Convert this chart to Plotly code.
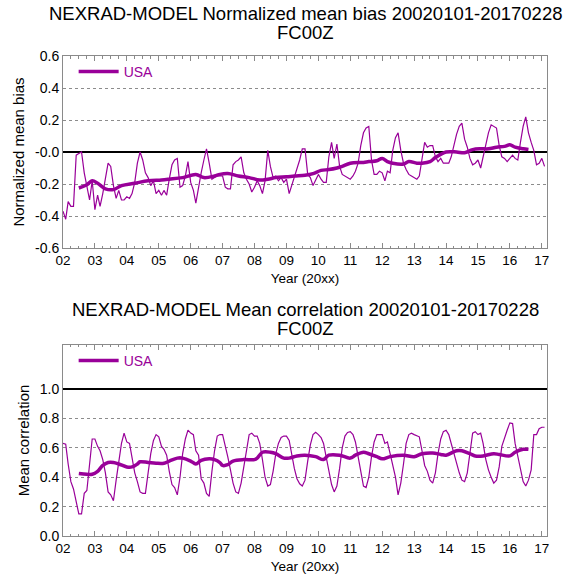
import pandas as pd
import plotly.graph_objects as go

# Monthly series, January 2002 through February 2017
months = pd.date_range("2002-01-01", "2017-02-01", freq="MS")

bias_monthly = [
    -0.37, -0.42, -0.31, -0.34, -0.34, -0.02, -0.01, 0.00, -0.13, -0.21,
    -0.30, -0.18, -0.36, -0.27, -0.34, -0.26, -0.16, -0.07, -0.09, -0.21,
    -0.29, -0.24, -0.30, -0.30, -0.28, -0.29, -0.26, -0.19, -0.07, 0.00,
    -0.05, -0.13, -0.16, -0.21, -0.18, -0.26, -0.24, -0.27, -0.24, -0.27,
    -0.17, -0.08, -0.05, -0.04, -0.22, -0.21, -0.15, -0.06, -0.19, -0.24,
    -0.32, -0.21, -0.13, -0.05, 0.02, -0.07, -0.17, -0.16, -0.15, -0.15,
    -0.15, -0.22, -0.23, -0.23, -0.08, -0.06, -0.05, -0.03, -0.13, -0.17,
    -0.20, -0.25, -0.22, -0.18, -0.21, -0.26, -0.18, 0.01, -0.09, -0.16,
    -0.15, -0.18, -0.16, -0.19, -0.17, -0.26, -0.21, -0.16, -0.11, -0.05,
    0.02, 0.02, -0.14, -0.16, -0.21, -0.17, -0.14, -0.17, -0.19, -0.19,
    -0.03, 0.06, -0.04, 0.05, -0.09, -0.14, -0.15, -0.16, -0.17, -0.15,
    -0.12, -0.07, 0.04, 0.12, 0.15, 0.16, -0.05, -0.14, -0.14, -0.12,
    -0.13, -0.18, -0.12, -0.13, 0.01, 0.09, 0.12, 0.01, -0.07, -0.11,
    -0.14, -0.15, -0.16, -0.17, -0.15, -0.05, 0.06, 0.03, 0.04, 0.04,
    -0.03, -0.06, -0.04, -0.07, -0.07, -0.07, -0.03, 0.04, 0.11, 0.16,
    0.18, 0.08, 0.03, -0.04, -0.08, -0.07, -0.05, -0.10, -0.03, 0.04,
    0.12, 0.17, 0.16, 0.15, 0.04, -0.03, -0.04, -0.06, -0.04, -0.02,
    -0.04, -0.05, 0.06, 0.16, 0.22, 0.12, 0.06, 0.01, -0.08, -0.07,
    -0.04, -0.09,
]

corr_monthly = [
    0.63, 0.625, 0.49, 0.37, 0.32, 0.23, 0.15, 0.15, 0.29, 0.31,
    0.48, 0.66, 0.66, 0.61, 0.58, 0.52, 0.43, 0.30, 0.28, 0.24,
    0.38, 0.52, 0.63, 0.70, 0.64, 0.63, 0.54, 0.43, 0.37, 0.30,
    0.29, 0.29, 0.43, 0.56, 0.65, 0.69, 0.675, 0.61, 0.59, 0.55,
    0.44, 0.35, 0.33, 0.28, 0.40, 0.56, 0.66, 0.72, 0.70, 0.69,
    0.58, 0.55, 0.39, 0.36, 0.29, 0.27, 0.44, 0.58, 0.68, 0.69,
    0.69, 0.62, 0.54, 0.45, 0.36, 0.30, 0.29, 0.36, 0.48, 0.60,
    0.69, 0.70, 0.68, 0.68, 0.63, 0.52, 0.40, 0.34, 0.35, 0.44,
    0.56, 0.63, 0.67, 0.68, 0.68, 0.65, 0.55, 0.46, 0.39, 0.355,
    0.34, 0.38, 0.51, 0.62, 0.69, 0.705, 0.69, 0.67, 0.63, 0.53,
    0.43, 0.35, 0.30, 0.34, 0.46, 0.60, 0.68, 0.705, 0.71, 0.69,
    0.64, 0.53, 0.42, 0.34, 0.33, 0.40, 0.54, 0.64, 0.69, 0.69,
    0.69, 0.63, 0.64, 0.56, 0.48, 0.40, 0.28, 0.36, 0.49, 0.63,
    0.69, 0.70, 0.69, 0.68, 0.675, 0.58, 0.48, 0.44, 0.38, 0.36,
    0.43, 0.56, 0.66, 0.71, 0.72, 0.69, 0.63, 0.56, 0.48, 0.43,
    0.38, 0.37, 0.43, 0.58, 0.70, 0.71, 0.69, 0.70, 0.63, 0.52,
    0.45, 0.40, 0.36, 0.38, 0.47, 0.61, 0.675, 0.72, 0.77, 0.765,
    0.63, 0.54, 0.44, 0.37, 0.34, 0.38, 0.45, 0.69, 0.69, 0.73,
    0.74, 0.74,
]

# 12-month running means
bias_smooth_dates = [
    "2002-07", "2002-10", "2002-12", "2003-02", "2003-05", "2003-08", "2003-11",
    "2004-04", "2004-09", "2005-02", "2005-05", "2005-10", "2006-03", "2006-06",
    "2006-10", "2006-12", "2007-03", "2007-07", "2007-11", "2008-03", "2008-06",
    "2008-09", "2009-01", "2009-04", "2009-08", "2009-11", "2010-02", "2010-05",
    "2010-08", "2010-10", "2011-01", "2011-06", "2011-08", "2011-11", "2012-01",
    "2012-03", "2012-05", "2012-09", "2012-11", "2013-02", "2013-04", "2013-07",
    "2013-09", "2014-01", "2014-05", "2014-08", "2014-11", "2015-02", "2015-05",
    "2015-08", "2015-11", "2016-01", "2016-03", "2016-06", "2016-08",
]
bias_smooth = [
    -0.225, -0.205, -0.18, -0.195, -0.23, -0.235, -0.21,
    -0.195, -0.18, -0.175, -0.17, -0.16, -0.14, -0.16,
    -0.15, -0.14, -0.135, -0.15, -0.16, -0.175, -0.17,
    -0.16, -0.155, -0.15, -0.145, -0.135, -0.115, -0.11,
    -0.10, -0.09, -0.07, -0.065, -0.06, -0.055, -0.04,
    -0.06, -0.07, -0.075, -0.06, -0.07, -0.07, -0.06,
    -0.035, 0.0, 0.0, -0.005, 0.015, 0.02, 0.02,
    0.03, 0.035, 0.045, 0.03, 0.02, 0.015,
]

corr_smooth_dates = [
    "2002-07", "2002-10", "2002-12", "2003-02", "2003-04", "2003-06", "2003-08",
    "2003-10", "2004-01", "2004-03", "2004-05", "2004-06", "2004-09", "2004-12",
    "2005-03", "2005-05", "2005-08", "2005-10", "2006-01", "2006-03", "2006-05",
    "2006-08", "2006-10", "2006-12", "2007-01", "2007-03", "2007-05", "2007-09",
    "2008-01", "2008-02", "2008-04", "2008-07", "2008-09", "2008-12", "2009-02",
    "2009-05", "2009-08", "2009-12", "2010-03", "2010-05", "2010-09", "2011-01",
    "2011-03", "2011-06", "2011-08", "2011-11", "2012-01", "2012-04", "2012-09",
    "2013-01", "2013-04", "2013-08", "2013-11", "2014-01", "2014-05", "2014-07",
    "2014-10", "2014-12", "2015-03", "2015-07", "2015-09", "2016-01", "2016-03",
    "2016-06", "2016-08",
]
corr_smooth = [
    0.425, 0.42, 0.42, 0.44, 0.48, 0.50, 0.50,
    0.49, 0.47, 0.47, 0.49, 0.505, 0.50, 0.495,
    0.495, 0.51, 0.53, 0.53, 0.51, 0.49, 0.515,
    0.525, 0.52, 0.50, 0.48, 0.485, 0.51, 0.52,
    0.52, 0.53, 0.57, 0.57, 0.56, 0.53, 0.53,
    0.545, 0.55, 0.54, 0.52, 0.55, 0.55, 0.53,
    0.55, 0.57, 0.56, 0.54, 0.525, 0.54, 0.55,
    0.54, 0.56, 0.565, 0.555, 0.55, 0.58, 0.58,
    0.56, 0.545, 0.545, 0.56, 0.555, 0.545, 0.57,
    0.59, 0.59,
]

bias_ticks = [-0.6, -0.4, -0.2, 0.0, 0.2, 0.4, 0.6]
bias_ticktext = ["-0.6", "-0.4", "-0.2", "-0.0", "0.2", "0.4", "0.6"]
corr_ticks = [0.0, 0.2, 0.4, 0.6, 0.8, 1.0]
corr_ticktext = ["0.0", "0.2", "0.4", "0.6", "0.8", "1.0"]
PERFECT_CORRELATION = 1.0

REGION = "USA"
PURPLE = "#990099"
FRAME = "#8a8a8a"
FONT = "Liberation Sans, Arial, Helvetica, sans-serif"

fig = go.Figure()

fig.add_trace(go.Scatter(x=months, y=bias_monthly, mode="lines",
                         line=dict(color=PURPLE, width=1.2),
                         showlegend=False, xaxis="x", yaxis="y"))
fig.add_trace(go.Scatter(x=pd.to_datetime(bias_smooth_dates), y=bias_smooth,
                         mode="lines", name=REGION,
                         line=dict(color=PURPLE, width=3.5, shape="spline"),
                         xaxis="x", yaxis="y", legend="legend"))
fig.add_trace(go.Scatter(x=months, y=corr_monthly, mode="lines",
                         line=dict(color=PURPLE, width=1.2),
                         showlegend=False, xaxis="x2", yaxis="y2"))
fig.add_trace(go.Scatter(x=pd.to_datetime(corr_smooth_dates), y=corr_smooth,
                         mode="lines", name=REGION,
                         line=dict(color=PURPLE, width=3.5, shape="spline"),
                         xaxis="x2", yaxis="y2", legend="legend2"))

xaxis_common = dict(
    type="date",
    range=["2002-01-01", "2017-03-01"],
    tick0="2002-01-01", dtick="M12", tickformat="%y",
    ticks="inside", ticklen=5, tickcolor=FRAME, tickwidth=1,
    minor=dict(dtick="M3", ticks="inside", ticklen=2.5, tickcolor=FRAME,
               showgrid=False),
    showline=True, linecolor=FRAME, linewidth=1, mirror="ticks",
    showgrid=False, zeroline=False,
    tickfont=dict(size=13.5, color="black"),
    title=dict(text="Year (20xx)", font=dict(size=13.5, color="black"),
               standoff=6),
    automargin=False,
)
yaxis_common = dict(
    showline=True, linecolor=FRAME, linewidth=1, mirror=True,
    showgrid=True, gridcolor="#8c8c8c", griddash="dot", gridwidth=1,
    ticks="", tickfont=dict(size=14, color="black"),
    automargin=False,
)

fig.update_layout(
    width=566, height=574,
    margin=dict(l=63, r=19, t=56, b=38),
    paper_bgcolor="white", plot_bgcolor="white",
    font=dict(family=FONT, color="black"),
    xaxis=dict(xaxis_common, anchor="y", domain=[0, 1]),
    yaxis=dict(yaxis_common, domain=[0.6, 1.0], range=[-0.6, 0.6],
               tickvals=bias_ticks, ticktext=bias_ticktext,
               zeroline=True, zerolinecolor="black", zerolinewidth=2,
               title=dict(text="Normalized mean bias",
                          font=dict(size=15, color="black"), standoff=6)),
    xaxis2=dict(xaxis_common, anchor="y2", domain=[0, 1]),
    yaxis2=dict(yaxis_common, domain=[0.0, 0.398], range=[0, 1.3],
                tickvals=corr_ticks, ticktext=corr_ticktext, zeroline=False,
                title=dict(text="Mean correlation",
                           font=dict(size=15, color="black"), standoff=6)),
    legend=dict(x=0.022, y=1.0, xanchor="left", yanchor="top",
                bgcolor="rgba(0,0,0,0)", font=dict(size=14, color=PURPLE),
                itemwidth=40),
    legend2=dict(x=0.022, y=0.398, xanchor="left", yanchor="top",
                 bgcolor="rgba(0,0,0,0)", font=dict(size=14, color=PURPLE),
                 itemwidth=40),
    showlegend=True,
)

# Reference line for a perfect correlation
fig.add_shape(type="line", xref="x2 domain", x0=0, x1=1,
              yref="y2", y0=PERFECT_CORRELATION, y1=PERFECT_CORRELATION,
              line=dict(color="black", width=2), layer="above")

# Two-line panel headings
titles = [
    ("NEXRAD-MODEL Normalized mean bias 20020101-20170228", 1.088),
    ("FC00Z", 1.048),
    ("NEXRAD-MODEL Mean correlation 20020101-20170228", 0.4729),
    ("FC00Z", 0.4333),
]
for text, ypos in titles:
    fig.add_annotation(text=text, xref="paper", yref="paper", x=0.5, y=ypos,
                       xanchor="center", yanchor="middle", showarrow=False,
                       font=dict(size=18.5, color="black"))

fig.write_html("out.html")
